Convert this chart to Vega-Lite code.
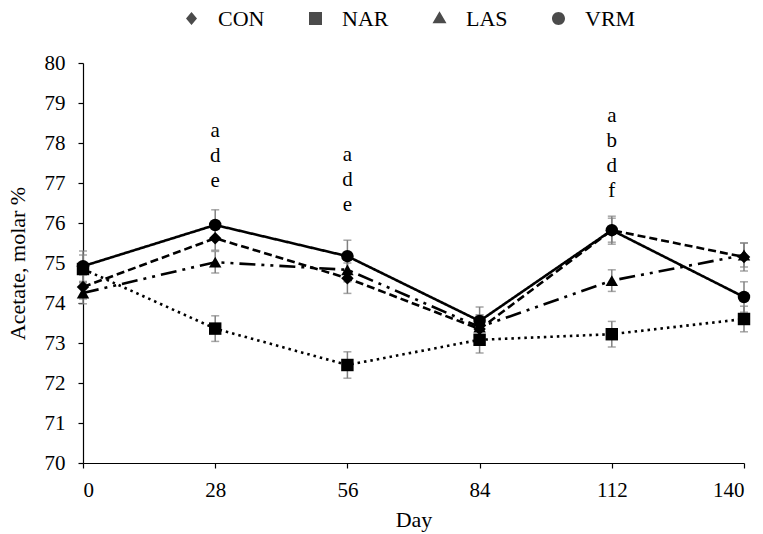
{
  "$schema": "https://vega.github.io/schema/vega-lite/v6.json",
  "width": 661,
  "height": 400,
  "autosize": {"type": "none"},
  "padding": {"left": 83, "top": 63, "right": 19, "bottom": 71},
  "background": "white",
  "datasets": {
    "acetate": [
      {"series": "CON", "day": 0, "mean": 74.4, "se": 0.3},
      {"series": "CON", "day": 28, "mean": 75.62, "se": 0.3},
      {"series": "CON", "day": 56, "mean": 74.62, "se": 0.38},
      {"series": "CON", "day": 84, "mean": 73.35, "se": 0.35},
      {"series": "CON", "day": 112, "mean": 75.82, "se": 0.3},
      {"series": "CON", "day": 140, "mean": 75.15, "se": 0.35},
      {"series": "NAR", "day": 0, "mean": 74.85, "se": 0.35},
      {"series": "NAR", "day": 28, "mean": 73.36, "se": 0.32},
      {"series": "NAR", "day": 56, "mean": 72.45, "se": 0.33},
      {"series": "NAR", "day": 84, "mean": 73.08, "se": 0.33},
      {"series": "NAR", "day": 112, "mean": 73.22, "se": 0.32},
      {"series": "NAR", "day": 140, "mean": 73.6, "se": 0.32},
      {"series": "LAS", "day": 0, "mean": 74.25, "se": 0.27},
      {"series": "LAS", "day": 28, "mean": 75.02, "se": 0.27},
      {"series": "LAS", "day": 56, "mean": 74.83, "se": 0.3},
      {"series": "LAS", "day": 84, "mean": 73.4, "se": 0.3},
      {"series": "LAS", "day": 112, "mean": 74.56, "se": 0.27},
      {"series": "LAS", "day": 140, "mean": 75.2, "se": 0.3},
      {"series": "VRM", "day": 0, "mean": 74.92, "se": 0.38},
      {"series": "VRM", "day": 28, "mean": 75.95, "se": 0.38},
      {"series": "VRM", "day": 56, "mean": 75.17, "se": 0.4},
      {"series": "VRM", "day": 84, "mean": 73.55, "se": 0.35},
      {"series": "VRM", "day": 112, "mean": 75.82, "se": 0.35},
      {"series": "VRM", "day": 140, "mean": 74.15, "se": 0.38}
    ],
    "letters": [
      {"day": 28, "y": 78.3, "label": ["a", "d", "e"]},
      {"day": 56, "y": 77.7, "label": ["a", "d", "e"]},
      {"day": 112, "y": 78.68, "label": ["a", "b", "d", "f"]}
    ]
  },
  "encoding": {
    "x": {
      "field": "day", "type": "quantitative",
      "scale": {"domain": [0, 140], "nice": false, "zero": false},
      "axis": {"values": [0, 28, 56, 84, 112, 140], "title": "Day", "labelPadding": 11, "titlePadding": 9}
    },
    "y": {
      "field": "mean", "type": "quantitative",
      "scale": {"domain": [70, 80], "nice": false, "zero": false},
      "axis": {"values": [70, 71, 72, 73, 74, 75, 76, 77, 78, 79, 80], "labelOverlap": false, "title": "Acetate, molar %", "labelPadding": 13, "titlePadding": 15}
    }
  },
  "resolve": {"scale": {"shape": "independent"}, "legend": {"shape": "independent"}},
  "layer": [
    {
      "data": {"name": "acetate"},
      "mark": {"type": "errorbar", "ticks": {"size": 8, "color": "#808080"}, "rule": {"color": "#808080"}, "thickness": 1.5},
      "encoding": {
        "yError": {"field": "se"}
      }
    },
    {
      "data": {"name": "acetate"},
      "mark": {"type": "line", "color": "black", "strokeWidth": 2.6},
      "encoding": {
        "detail": {"field": "series"},
        "strokeDash": {
          "field": "series", "type": "nominal",
          "scale": {"domain": ["VRM", "LAS", "NAR", "CON"], "range": [[1, 0], [16, 6, 3, 6, 3, 6], [2.5, 4], [8, 4]]},
          "legend": null
        }
      }
    },
    {
      "data": {"name": "acetate"},
      "mark": {"type": "point", "filled": true, "color": "black", "opacity": 1, "size": 155},
      "encoding": {
        "shape": {
          "field": "series", "type": "nominal",
          "scale": {"domain": ["VRM", "LAS", "NAR", "CON"], "range": ["circle", "triangle-up", "square", "diamond"]},
          "legend": null
        }
      }
    },
    {
      "data": {"name": "acetate"},
      "mark": {"type": "point", "filled": true, "color": "black", "size": 0},
      "encoding": {
        "shape": {
          "field": "series", "type": "nominal",
          "scale": {"domain": ["CON", "NAR", "LAS", "VRM"], "range": [
            "M-1,0L-0.7,0M-0.56,0L-0.28,0M0.28,0L0.56,0M0.7,0L1,0M0,-0.26L0.22,0L0,0.26L-0.22,0Z",
            "M-1,0L-0.9,0M-0.76,0L-0.66,0M-0.52,0L-0.42,0M0.42,0L0.52,0M0.66,0L0.76,0M0.9,0L1,0M-0.26,-0.26L0.26,-0.26L0.26,0.26L-0.26,0.26Z",
            "M-1,0L-0.3,0M0.48,0L0.58,0M0,-0.3L0.28,0.18L-0.28,0.18Z",
            "M-1,0L1,0M0.26,0A0.26,0.26,0,1,1,-0.26,0A0.26,0.26,0,1,1,0.26,0Z"
          ]},
          "legend": {
            "orient": "none", "legendX": 82, "legendY": -71, "direction": "horizontal", "title": null,
            "symbolSize": 2500, "labelOffset": 0, "columnPadding": 20, "padding": 0,
            "labelFont": "Liberation Serif", "labelFontSize": 22, "labelColor": "black",
            "symbolFillColor": "black", "symbolStrokeColor": "black", "symbolStrokeWidth": 2.5,
            "encode": {
              "symbols": {
                "size": {"value": 2500},
                "fill": {"value": "black"},
                "stroke": {"value": "black"},
                "strokeWidth": {"value": 2.5},
                "opacity": {"value": 1}
              },
              "labels": {
                "font": {"value": "Liberation Serif"},
                "fontSize": {"value": 22},
                "fill": {"value": "black"}
              }
            }
          }
        }
      }
    },
    {
      "data": {"name": "letters"},
      "mark": {"type": "text", "font": "Liberation Serif", "fontSize": 21, "lineHeight": 25, "baseline": "middle", "align": "center", "color": "black"},
      "encoding": {
        "y": {"field": "y", "type": "quantitative",
          "axis": {"values": [70, 71, 72, 73, 74, 75, 76, 77, 78, 79, 80], "labelOverlap": false, "title": "Acetate, molar %", "labelPadding": 13, "titlePadding": 15}},
        "text": {"field": "label"}
      }
    }
  ],
  "config": {
    "view": {"stroke": null},
    "legend": {"labelFont": "Liberation Serif", "labelFontSize": 22, "labelColor": "black"},
    "axis": {
      "domainColor": "black", "tickColor": "black", "labelColor": "black", "titleColor": "black",
      "labelFont": "Liberation Serif", "titleFont": "Liberation Serif",
      "labelFontSize": 21, "titleFontSize": 22, "titleFontWeight": "normal",
      "grid": false, "tickSize": 5, "domainWidth": 1.2, "tickWidth": 1.2
    }
  }
}
